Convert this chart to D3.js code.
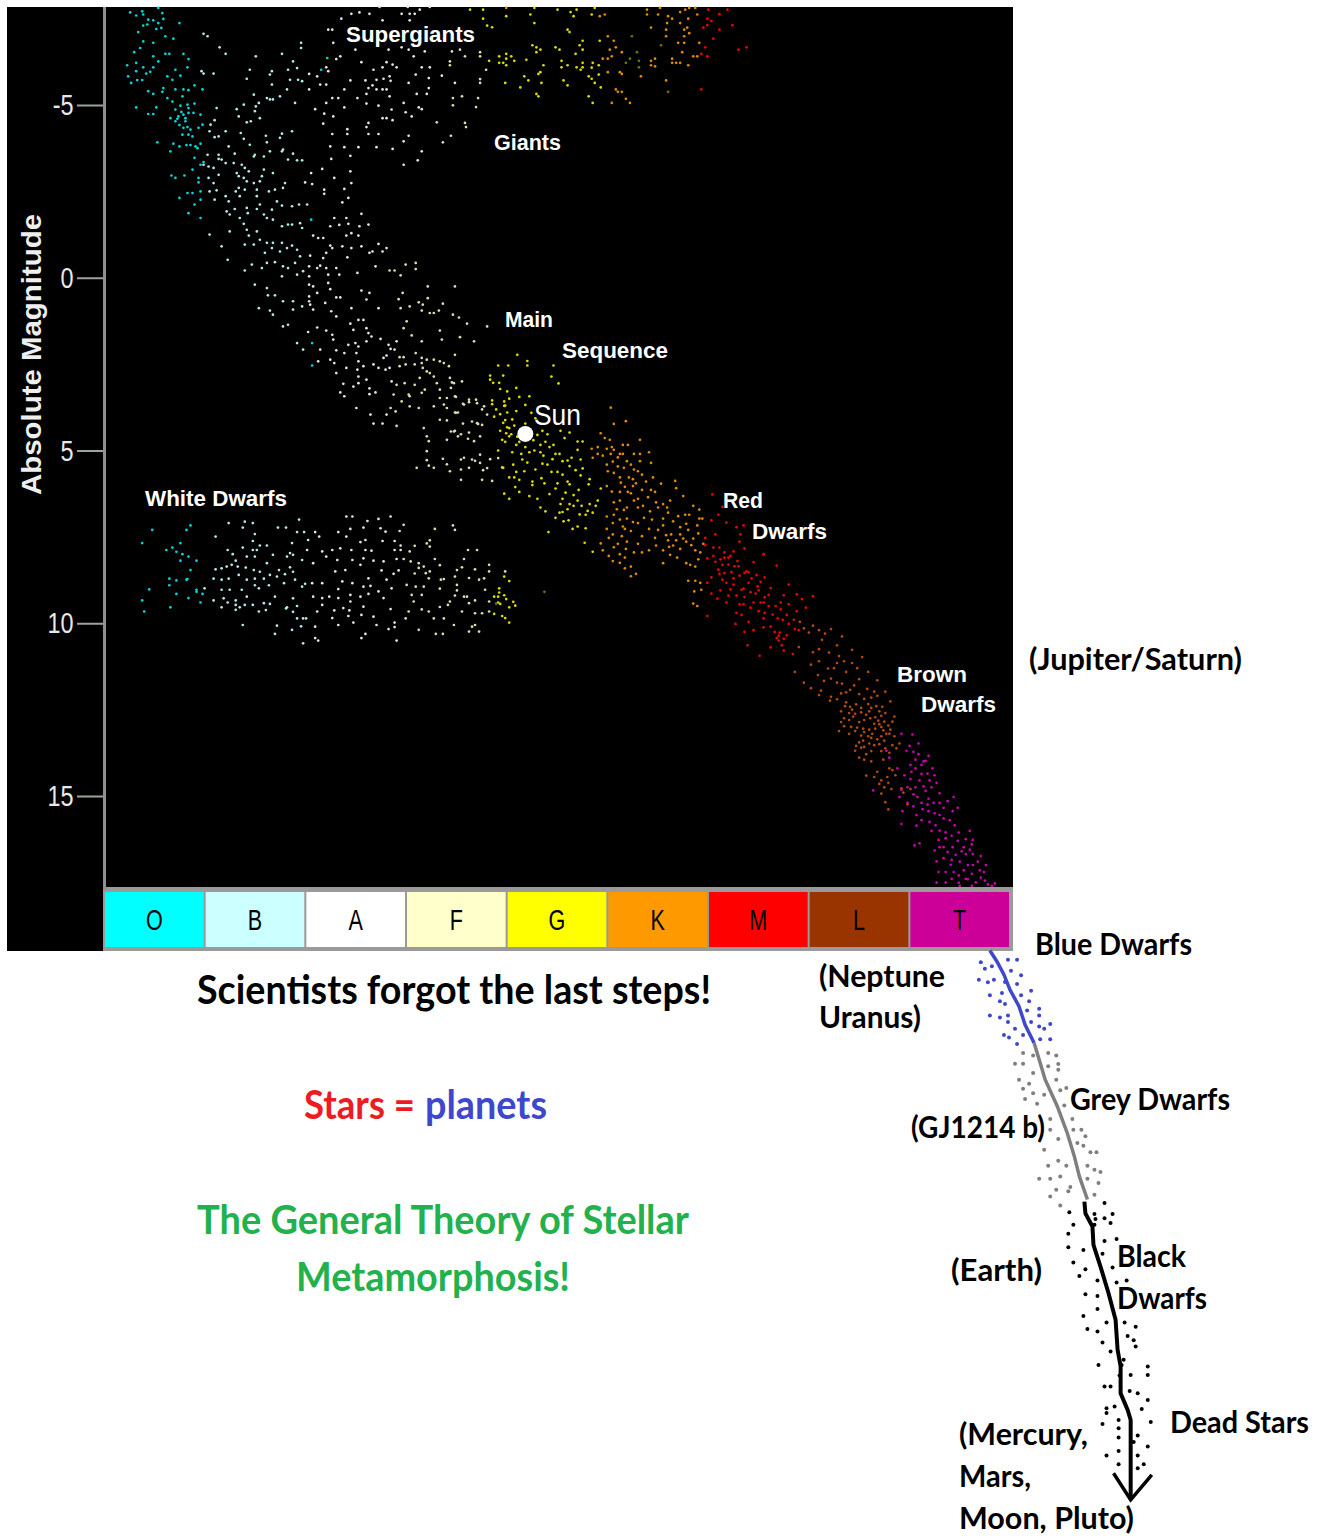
<!DOCTYPE html>
<html>
<head>
<meta charset="utf-8">
<script src="https://cdn.jsdelivr.net/npm/d3@7"></script>
<style>
body { margin: 0; background: #fff; }
svg { display: block; }
</style>
</head>
<body>
<div id="chart"></div>
<script>
// Spectral classes along the bottom of the diagram
const classes = ["O", "B", "A", "F", "G", "K", "M", "L", "T"];
const magnitudeTicks = [-5, 0, 5, 10, 15];

// Stars as [spectral position in classes, absolute magnitude]
const starsO = [[.25,-7.68],[.31,-7.59],[.37,-7.71],[.38,-7.62],[.43,-7.47],[.48,-7.45],[.53,-7.81],[.57,-7.66],[.58,-7.49],[.53,-7.37],[.42,-7.33],[.38,-7.3],[.51,-7.2],[.56,-7.23],[.33,-7.11],[.6,-6.99],[.68,-6.92],[.74,-7.37],[.38,-6.84],[.48,-6.8],[.35,-6.65],[.29,-6.53],[.6,-6.48],[.64,-6.48],[.78,-6.48],[.48,-6.41],[.53,-6.26],[.83,-6.33],[.22,-6.15],[.31,-6.22],[.38,-6.09],[.48,-6.09],[.31,-5.98],[.45,-5.96],[.41,-5.91],[.23,-5.83],[.7,-6.02],[.75,-5.85],[.82,-6.09],[.62,-5.83],[.67,-5.73],[.32,-5.72],[.37,-5.72],[.26,-5.64],[.58,-5.49],[.7,-5.45],[.78,-5.45],[.83,-5.43],[.89,-5.57],[.97,-5.45],[.43,-5.4],[.48,-5.32],[.57,-5.38],[.77,-5.25],[.62,-5.2],[.67,-5.1],[.82,-5.01],[.75,-4.98],[.83,-4.91],[.89,-5.04],[.31,-4.93],[.51,-4.93],[.7,-4.87],[.73,-4.67],[.78,-4.72],[.83,-4.77],[.88,-4.77],[.43,-4.74],[.48,-4.74],[.65,-4.62],[.7,-4.53],[.8,-4.53],[.95,-4.72],[.78,-4.34],[.85,-4.29],[.97,-4.43],[.93,-4.34],[.77,-4.14],[.83,-4.14],[.87,-4.09],[.52,-3.92],[.68,-3.88],[.74,-3.8],[.81,-3.84],[.85,-3.84],[.95,-3.88],[.65,-3.66],[.89,-3.47],[.95,-3.27],[.87,-3.13],[.66,-2.96],[.7,-2.89],[.79,-2.96],[.93,-2.89],[.93,-2.76],[.82,-2.45],[.87,-2.45],[.95,-2.5],[.74,-2.31],[.95,-2.26],[.89,-2.12],[.83,-1.87],[.95,-1.73],[2.06,1.89],[2.06,2.54],[2.05,-1.68],[2.21,-6.36],[2.15,-6.02],[.72,-4.6],[.76,-4.8],[.8,-4.62],[.74,-4.42],[.82,-4.36],[.9,-3.8],[.92,-3.75],[.98,-3.35],
  [.47,7.3],[.85,7.17],[.81,7.3],[.37,7.68],[.75,7.68],[.61,7.88],[.67,7.81],[.71,7.93],[.77,8],[.83,8.07],[.91,8.19],[.75,8.19],[.85,8.46],[.64,8.71],[.71,8.76],[.81,8.74],[.82,8.72],[.64,8.9],[.91,9.03],[.91,9.09],[.44,9.02],[.71,9.15],[.83,9.27],[.97,9.15],[.37,9.34],[.95,9.4],[.65,9.54],[.39,9.66]];

const starsB = [[.98,-7.06],[1.02,-6.99],[1.14,-6.67],[1.2,-6.48],[.96,-5.98],[.98,-5.91],[1.08,-5.91],[1.11,-4.91],[1.09,-4.56],[1.05,-4.43],[1.04,-4.24],[1.2,-4.24],[1.09,-4.07],[1.13,-4.09],[1.02,-3.56],[1.13,-3.56],[1.13,-3.44],[1.23,-3.8],[1.29,-3.59],[1.16,-3.42],[1.2,-3.32],[1.28,-3.32],[.98,-3.27],[1.03,-3.22],[1.08,-3.18],[1.13,-2.98],[1.03,-2.89],[1.08,-2.74],[1.11,-2.53],[1.04,-2.5],[1.09,-2.26],[1.2,-2.36],[1.23,-2.21],[1.31,-3.03],[1.36,-3.27],[1.39,-3.18],[1.33,-2.94],[1.38,-2.89],[1.43,-3.08],[1.48,-2.74],[1.41,-2.79],[1.33,-2.6],[1.3,-2.5],[1.39,-2.55],[1.34,-2.36],[1.51,-2.55],[1.51,-2.36],[1.29,-1.99],[1.21,-1.92],[1.24,-1.83],[1.34,-1.73],[1.41,-2.02],[1.42,-1.87],[1.51,-1.99],[1.58,-1.83],[1.61,-1.73],[1.67,-1.68],[1.54,-2.12],[1.38,-1.56],[1.41,-1.39],[1.51,-1.34],[1.24,-1.34],[1.43,-1.22],[1.39,-.96],[1.48,-.96],[1.54,-1.1],[1.61,-1.01],[1.67,-1.01],[1.76,-1.01],[1.59,-.72],[1.66,-.86],[1.74,-.76],[1.81,-.86],[1.86,-.93],[1.91,-.81],[1.94,-.62],[1.89,-.43],[1.46,-.38],[1.56,-.28],[1.61,-.43],[1.69,-.45],[1.77,-.33],[1.82,-.28],[1.91,-.09],[1.97,-.19],[1.39,-.21],[1.76,-.04],[1.49,.2],[1.61,.3],[1.62,.51],[1.69,.51],[1.77,.68],[1.87,.68],[1.53,.88],[1.64,.95],[1.67,1.07],[1.87,.92],[1.96,.83],[1.77,1.41],[1.82,1.36],[1.91,1.89],[1.97,2.08],[1.04,-1.25],[1.16,-.91],[1.22,-.52],[1.35,-4.19],[1.38,-4.02],[1.44,-3.85],[1.49,-3.56],[1.58,-3.51],[1.48,-3.51],[1.64,-3.66],[1.76,-3.66],[1.77,-3.71],[1.87,-3.59],[1.91,-3.4],[1.96,-3.4],[1.82,-3.42],[1.58,-3.13],[1.67,-3.03],[1.56,-2.94],[1.54,-2.79],[1.79,-2.74],[1.63,-2.5],[1.69,-2.55],[1.77,-2.6],[1.71,-2.21],[1.76,-2.09],[1.66,-1.97],[1.86,-2.07],[1.93,-2.12],[2.01,-2.12],[1.76,-1.49],[1.82,-1.54],[1.86,-1.54],[1.94,-1.58],[1.96,-1.44],[1.41,-5.76],[1.44,-6.02],[1.66,-5.98],[1.64,-5.88],[1.82,-6.02],[1.84,-5.73],[1.87,-6.26],[1.91,-6.07],[1.96,-5.69],[1.92,-5.73],[1.66,-5.59],[1.48,-5.3],[1.61,-5.2],[1.64,-5.16],[1.74,-5.25],[1.67,-5.16],[1.81,-5.45],[1.89,-5.06],[1.76,-6.48],[1.95,-6.8],[1.95,-6.65],[1.5,-6.41],[1.38,-5.01],[1.31,-4.88],[1.5,-4.96],[1.53,-5.06],[1.49,-4.82],[1.33,-4.67],[1.41,-4.5],[1.54,-4.62],[1.45,-4.53],[1.6,-4.11],[1.76,-4.17],[1.86,-4.24],[1.61,-3.92],[1.74,-4.05],
  [1.23,7.1],[1.39,7.06],[1.47,7.1],[1.1,7.49],[1.37,7.23],[1.49,7.42],[1.47,7.62],[1.72,7.23],[1.8,7.23],[1.93,7],[1.91,7.36],[1.98,7.36],[1.22,7.88],[1.27,8],[1.37,7.81],[1.47,7.88],[1.51,7.88],[1.54,7.75],[1.61,7.75],[1.67,8.02],[1.49,8.07],[1.41,8.07],[1.3,8.19],[1.61,8.26],[1.86,7.68],[1.84,7.97],[1.81,8.07],[1.96,8.17],[1.87,8.02],[1.73,8.46],[1.84,8.38],[1.1,8.44],[1.16,8.41],[1.21,8.36],[1.26,8.31],[1.32,8.36],[1.4,8.39],[1.48,8.46],[1.54,8.51],[1.64,8.6],[1.87,8.51],[1.08,8.71],[1.16,8.74],[1.23,8.71],[1.33,8.6],[1.41,8.74],[1.49,8.71],[1.58,8.71],[1.71,8.65],[1.79,8.58],[1.89,8.74],[1.49,8.9],[1.36,9.03],[1.16,9.03],[1.24,9.03],[.99,8.99],[1.53,8.99],[1.63,8.9],[1.78,8.84],[1.96,8.94],[1.99,8.86],[1.18,9.28],[1.3,9.34],[1.41,9.23],[1.69,9.23],[1.87,9.28],[1.08,9.34],[1.16,9.54],[1.22,9.4],[1.3,9.47],[1.34,9.54],[1.39,9.47],[1.47,9.47],[1.58,9.42],[1.64,9.44],[1.81,9.54],[1.91,9.5],[1.3,9.61],[1.53,9.66],[1.6,9.62],[1.8,9.57],[1.87,9.67],[1.91,9.86],[1.97,9.86],[2,9.86],[1.71,10.07],[1.37,10.05],[1.86,10.19],[1.69,10.31],[1.95,10.09],[1.97,10.58]];

const starsA = [[2.45,-7.64],[2.53,-7.68],[2.63,-7.64],[2.73,-7.84],[2.95,-7.64],[3.01,-7.84],[3.03,-7.64],[3.08,-7.64],[3.13,-7.76],[3.23,-7.84],[2.35,-7.5],[2.76,-7.45],[3.03,-7.45],[2.22,-7.18],[2.26,-7.18],[2.27,-6.8],[2.49,-6.6],[2.82,-6.6],[2.95,-6.67],[3.02,-6.6],[3.18,-6.55],[3.07,-6.41],[2.34,-6.41],[2.3,-6.33],[2.2,-6.09],[2.22,-5.98],[2.03,-5.9],[2.11,-5.83],[2.55,-6.24],[2.8,-6.24],[2.86,-6.17],[2.9,-6.09],[2.76,-6.09],[2.67,-6.02],[3.15,-6.09],[3.23,-6.09],[2.14,-5.59],[2.2,-5.59],[2.44,-5.71],[2.59,-5.71],[2.7,-5.73],[2.77,-5.76],[2.83,-5.83],[2.84,-5.7],[2.66,-5.57],[2.62,-5.49],[3.09,-5.88],[3.02,-5.64],[3.22,-5.78],[3.35,-5.85],[3.48,-5.64],[2.03,-5.45],[2.38,-5.45],[2.76,-5.45],[2.8,-5.45],[2.7,-5.45],[2.6,-5.32],[2.83,-5.25],[3.22,-5.49],[3.2,-5.32],[2.32,-5.2],[2.26,-5.2],[2.2,-5.06],[2.51,-5.2],[3.1,-5.32],[2.97,-5.06],[2.6,-5.04],[2.72,-4.98],[2.09,-4.88],[2.38,-4.93],[2.85,-4.87],[3.12,-4.93],[3.15,-4.88],[2.99,-4.79],[3.05,-4.67],[2.18,-4.75],[2.27,-4.67],[2.76,-4.62],[2.8,-4.62],[2.86,-4.56],[2.17,-4.46],[2.62,-4.48],[2.6,-4.36],[2.41,-4.3],[2.41,-4.16],[2.26,-4.16],[2.62,-4.16],[2.72,-4.16],[3.02,-4.11],[2.97,-3.95],[2.24,-3.8],[2.38,-3.78],[2.52,-3.78],[2.7,-3.78],[2.86,-3.73],[3.15,-3.66],[2.44,-3.53],[2.25,-3.44],[2.97,-3.27],[3.11,-3.4],[2.16,-3.15],[2.44,-3.08],[2.28,-2.89],[2.45,-2.74],[2.05,-3.03],[1.99,-2.76],[2.06,-2.71],[2.18,-2.55],[2.18,-2.43],[2.38,-2.57],[2.42,-2.31],[2.36,-2.18],[2.55,-1.85],[2.28,-1.73],[2.4,-1.73],[2.42,-1.56],[2.33,-1.53],[2.24,-1.49],[2.53,-1.49],[2.62,-1.54],[2.07,-1.22],[2.12,-1.15],[2.17,-1.15],[2.4,-1.22],[2.45,-1.29],[2.52,-1.22],[2.24,-.93],[2.26,-.86],[2.2,-.72],[2.36,-.91],[2.45,-.86],[2.55,-.91],[2.63,-.72],[2.66,-.76],[2.72,-.98],[2.76,-.76],[2.8,-.86],[2.17,-.57],[2.41,-.59],[2.04,-.64],[2.03,-.33],[2.11,-.28],[2.14,-.35],[2.2,-.28],[2.3,-.28],[2.69,-.33],[2.51,-.14],[2.22,-.09],[2.33,-.09],[2.03,-.04],[2.03,.2],[2.07,.25],[2.22,.15],[2.24,.33],[2.11,.44],[2.55,.37],[2.63,.44],[2.6,.63],[2.03,.54],[2.03,.68],[2.3,.57],[2.34,.57],[2.19,.73],[2.25,.97],[2.07,.92],[2.45,.88],[2.72,.88],[2.04,.78],[2.3,1.12],[2.52,1.22],[2.57,1.22],[2.44,1.33],[2.6,1.46],[2.62,1.6],[2.65,1.7],[2.47,1.51],[2.11,1.44],[2.02,1.57],[2.2,1.53],[2.26,1.65],[2.27,1.79],[2.49,1.89],[2.52,1.99],[2.6,1.84],[2.74,1.77],[2.14,2.08],[2.3,2.1],[2.38,2.18],[2.42,1.94],[2.5,2.18],[2.12,2.42],[2.24,2.37],[2.28,2.47],[2.52,2.42],[2.57,2.56],[2.51,2.66],[2.67,2.51],[2.3,2.76],[2.4,2.61],[2.72,2.61],[2.77,2.32],[2.8,2.25],[2.82,1.94],[2.84,2.06],[2.88,2.08],[2.9,1.84],[2.37,3.07],[2.47,3.15],[2.52,2.86],[2.52,3.05],[2.6,2.95],[2.79,2.66],[2.83,2.61],[2.85,3],[2.34,3.32],[2.38,3.43],[2.63,3.2],[2.63,3.37],[2.69,3.32],[2.5,3.77],[2.64,3.96],[2.8,3.96],[2.67,4.22],[2.76,4.22],
  [2.4,6.91],[2.46,6.91],[2.61,7.04],[2.72,6.98],[2.84,6.91],[2.44,7.27],[2.32,7.36],[2.57,7.23],[2.74,7.25],[2.79,7.35],[2.02,7.59],[2.09,7.36],[2.13,7.49],[2.4,7.49],[2.54,7.65],[2.59,7.59],[2.76,7.62],[2.88,7.62],[2.94,7.75],[2.01,7.88],[2.07,8.26],[2.16,7.92],[2.2,8.07],[2.26,7.88],[2.34,7.83],[2.45,7.88],[2.59,7.88],[2.65,7.9],[2.88,7.88],[2.94,7.88],[2.31,8.17],[2.46,8.17],[2.57,8.12],[2.67,8.19],[2.77,8.21],[2.9,8.14],[2.29,8.5],[2.39,8.46],[2.54,8.31],[2.75,8.47],[2.87,8.57],[2.92,8.47],[2.06,8.84],[2.16,8.84],[2.36,8.79],[2.46,8.84],[2.62,8.7],[2.8,8.74],[2.57,8.94],[2.64,8.92],[2.85,8.99],[2.32,9.01],[2.44,9.18],[2.54,9.23],[2.62,9.15],[2.72,9.08],[2.77,9.27],[2.07,9.23],[2.23,9.23],[2.16,9.27],[2.32,9.27],[2.44,9.37],[2.16,9.47],[2.11,9.66],[2.28,9.63],[2.37,9.56],[2.43,9.63],[2.57,9.52],[2.84,9.59],[2.26,9.85],[2.42,9.79],[2.55,9.76],[2.67,9.81],[2.47,9.98],[2.32,10.05],[2.7,10.05],[2.09,10.1],[2.88,9.98],[2.88,10.11],[2.82,10.17],[2.59,10.31],[2.55,10.43],[2.09,10.43],[2.12,10.5],[2.9,10.5]];

const starsF = [[3.45,-6.55],[3.53,-6.6],[3.43,-6.26],[3.43,-6.15],[3.58,-6.41],[3.73,-6.53],[3.73,-6.41],[3.79,-6.02],[3.73,-5.75],[3.73,-5.64],[3.46,-5.2],[3.55,-5.25],[3.71,-5.2],[3.46,-4.99],[3.69,-4.94],[3.3,-4.5],[3.58,-4.48],[3.59,-4.36],[3.36,-3.92],[3.44,-4.11],[2.99,-.38],[3.09,-.43],[3.09,-.25],[2.83,-.21],[2.88,-.21],[2.94,-.07],[3.21,.25],[3.48,.25],[2.96,.44],[2.92,.62],[3.21,.59],[3.03,.83],[3.12,.71],[3.16,.78],[3.15,.95],[2.94,.88],[3.36,.75],[3.23,1.02],[3.27,1.02],[3.32,.95],[3,1.26],[2.97,1.46],[3.46,1.07],[3.52,1.15],[3.6,1.33],[3.33,1.53],[3.05,1.67],[3.8,1.41],[3.53,1.72],[3.67,1.84],[3.15,1.84],[3.35,1.79],[3.09,2.18],[2.93,2.3],[2.97,2.3],[3.15,2.32],[3.15,2.47],[3.2,2.37],[3.27,2.37],[3.33,2.42],[3.37,2.47],[3.42,2.56],[3.48,2.23],[2.93,2.56],[2.99,2.51],[3.08,2.51],[3.16,2.61],[3.2,2.71],[3.23,2.76],[3.27,2.86],[3.43,2.9],[3.47,3.05],[3.55,3],[3.13,2.9],[2.98,3.05],[2.9,3.1],[2.87,3.38],[3.02,3.38],[3.08,3.1],[3.18,3.24],[3.3,3.05],[3.33,3.24],[3.44,3.19],[2.95,3.58],[3.03,3.43],[3.15,3.33],[3.33,3.48],[3.4,3.48],[3.48,3.43],[3.27,3.72],[3.37,3.67],[3.4,3.77],[3.57,3.67],[3.62,3.53],[3.7,3.63],[3.77,3.72],[2.84,3.77],[3.03,3.72],[3.12,3.77],[2.89,3.87],[3.48,3.9],[3.51,3.9],[3.65,4.16],[3.7,4.21],[3.75,4.26],[3.8,3.96],[3.33,4.11],[3.4,4.13],[2.9,4.29],[3.17,4.35],[3.47,4.45],[3.51,4.59],[3.4,4.69],[3.2,4.59],[3.22,4.73],[3.67,4.73],[3.73,4.59],
  [3.45,3.03],[3.49,3.45],[3.56,3.65],[3.62,3.6],[3.69,3.53],[3.75,3.81],[3.49,3.91],[3.56,4.22],[3.71,4.23],[3.62,4.48],[3.48,4.43],[3.54,4.53],[3.61,4.66],[3.44,4.45],[3.57,5.21],[3.54,5.26],[3.73,5.12],[3.83,5.25],[3.54,5.55],[3.62,5.5],[3.73,5.36],[3.76,5.57],[3.8,5.51],[3.54,5.85],[3.65,5.26],[3.68,5.3],[3.75,5.85],[3.85,5.88],[3.91,5.22],[3.95,5.49],[3.2,5.02],[3.2,5.28],[3.22,5.44],[3.36,5.24],[3.1,5.5],[3.27,5.5],[3.4,5.4],[3.43,5.6],
  [2.97,7.15],[2.93,7.33],[3.28,7.27],[3.46,7.17],[3.48,7.3],[3.23,7.6],[3.2,7.69],[3.23,7.78],[3.08,7.76],[3.03,7.92],[3.61,7.88],[3.7,7.88],[2.97,8.14],[3.04,8.21],[3.28,8.14],[3.12,8.26],[3.17,8.36],[3.33,8.32],[3.57,8.14],[3.82,8.31],[3.12,8.4],[3.19,8.55],[3.23,8.5],[3.5,8.46],[3.55,8.38],[3.68,8.44],[3.82,8.5],[3.08,8.56],[3.22,8.7],[3.37,8.72],[3.48,8.65],[3.62,8.69],[3.77,8.7],[3.98,8.5],[3,8.89],[3.09,8.94],[3.17,8.94],[3.34,8.74],[3.5,8.89],[3.72,8.74],[3.78,9.03],[3.05,9.18],[3.15,9.18],[3.33,9],[3.5,9.05],[3.57,9.23],[3.07,9.37],[3.6,9.23],[3.48,9.2],[3.43,9.37],[3.68,9.34],[3.82,9.37],[3.15,9.6],[3.33,9.53],[3.41,9.47],[3.62,9.42],[3.68,9.71],[3.75,9.71],[3.02,9.66],[2.99,9.86],[3.55,9.66],[3.22,9.66],[3.27,9.86],[3.37,9.86],[3.47,10.05],[3.65,10.1],[3.12,10.19],[3.29,10.31],[3.36,10.31],[3.62,10.24],[3.72,10.24],[3.68,10.05],[3.82,9.66]];

const starsG = [[3.63,-7.76],[3.76,-7.76],[3.76,-7.5],[3.99,-7.57],[3.8,-7.3],[3.85,-7.25],[4.27,-7.81],[4.23,-7.62],[4.27,-7.37],[4.5,-7.76],[4.63,-7.69],[4.69,-7.76],[4.66,-7.57],[4.87,-7.81],[4.84,-7.62],[4.6,-7.18],[4.62,-7.11],[4.75,-6.86],[4.92,-6.86],[4.25,-6.73],[4.29,-6.67],[4.33,-6.6],[4.29,-6.53],[4.48,-6.67],[4.52,-6.6],[4.72,-6.73],[4.75,-6.6],[4.68,-6.48],[3.92,-6.41],[3.99,-6.48],[4.04,-6.41],[3.99,-6.34],[4.07,-6.28],[3.82,-6.28],[3.92,-6.22],[3.96,-6.22],[3.99,-6.15],[4.19,-6.31],[4.36,-6.15],[4.54,-6.28],[4.54,-6.09],[4.6,-6.15],[4.69,-6.09],[4.75,-6.22],[4.75,-6.09],[4.73,-6.02],[4.85,-6.22],[4.84,-6.08],[4.91,-6.15],[4.33,-5.95],[4.31,-5.9],[4.17,-5.83],[4.21,-5.71],[3.98,-5.64],[4.34,-5.64],[4.13,-5.51],[4.56,-5.71],[4.6,-5.57],[4.81,-5.83],[4.84,-5.76],[4.87,-5.64],[4.91,-5.88],[4.93,-5.51],[4.29,-5.32],[4.31,-5.25],[4.81,-5.25],[4.85,-5.06],
  [3.91,2.54],[4.01,2.54],[4.1,2.23],[4.2,2.41],[4.2,2.54],[4.46,2.54],[4.44,2.86],[4.51,3.06],[3.83,2.83],[3.83,2.95],[3.96,2.83],[3.86,3.04],[3.92,3.04],[3.93,3.22],[4,3.29],[4.09,3.19],[4.02,3.5],[4.22,3.43],[4.12,3.45],[3.85,3.55],[3.85,3.66],[3.97,3.71],[4.09,3.86],[4.18,3.68],[4.24,3.91],[3.89,3.81],[3.87,4.02],[3.98,4.12],[4,4.33],[3.93,4.43],[3.95,4.69],[4.02,4.59],[4.07,4.28],[4.04,4.53],[4.09,4.84],[4.18,4.22],[4.28,4.07],[4.35,4.43],[4.4,4.53],[4.33,4.84],[4.46,4.84],[4.53,4.43],[4.57,4.64],[4.62,4.48],[4.22,5.05],[4.33,5.05],[3.91,5],[4.15,5.26],[4.06,5.41],[3.96,5.5],[4.35,5.38],[4.55,5.31],[4.6,5.29],[4.48,5.1],[4.4,5.41],[4.44,5.62],[4.5,5.62],[4.09,5.62],[4.02,5.78],[4.07,5.78],[4.08,6.06],[4.25,6],[4.22,6.32],[4.37,5.95],[4.42,6.26],[4.53,6.55],[4.62,6.55],[4.74,6.6],[4.88,6.6],[4.38,6.76],[4.55,6.78],[4.61,7.02],[4.78,6.86],[4.41,7.36],[4.65,7.27],[4.77,7.67],[4.85,7.93],[4.7,4.74],[4.75,4.74],[4.7,4.98],[4.64,5.21],[4.73,5.26],[4.68,5.57],[4.73,5.72],[4.62,5.98],[4.58,6.22],[4.66,6.29],[4.71,6.14],[4.82,5.83],[4.81,5.98],[4.75,5.52],
  [3.97,6.25],[4.02,6.4],[4.12,6.2],[4.25,5.9],[4.33,6.65],[4.48,6.95],[4.55,6.4],[3.97,3.58],[3.98,3.7],[4,3.9],[3.93,3.95],[3.96,4.2],[3.99,4.5],[4.02,4.35],[4.05,4.1],[3.98,4.75],[4.1,4.6],[4.12,4.75],[4.18,4.9],[4.26,4.7],[4.3,4.55],[4.27,5],[4.38,4.75],[4.42,4.9],[4.36,5.15],[4.14,5.1],[4.2,5.35],[4.05,5.05],[4.12,5.85],[4.17,5.6],[4.28,5.55],[4.34,5.8],[4.45,5.25],[4.52,5.1],[4.55,5.7],[4.62,5.45],[4.5,5.95],[4.6,5.9],[4.48,6.1],[4.3,6.4],[4.52,6.8],[4.56,7.05],[4.66,6.6],[4.7,6.45],[4.82,6.55],[4.72,6.85],[4.8,6.75],[4.6,6.7],[4.93,6.1],[4.9,6.45],[4.85,6.8],[4.7,7.2],[4.78,7.25],
  [3.97,8.65],[4.02,8.78],[3.92,8.99],[3.92,9.11],[3.97,9.19],[3.87,9.23],[3.91,9.23],[3.99,9.3],[4.06,9.38],[4.08,9.49],[3.91,9.4],[3.93,9.44],[4.02,9.54],[3.87,9.73],[3.95,9.79],[3.98,9.85],[4.02,9.98]];

const starsK = [[3.99,-7.81],[4.92,-7.57],[4.97,-7.62],[5.39,-7.76],[5.39,-7.62],[5.5,-7.62],[5.52,-7.81],[5.6,-7.57],[5.64,-7.5],[5.72,-7.69],[5.77,-7.76],[5.81,-7.81],[5.87,-7.81],[5.89,-7.62],[5.8,-7.5],[5.59,-7.37],[5.72,-7.37],[5.43,-7.24],[5.58,-7.18],[5.76,-7.18],[5.79,-7.24],[5.81,-7.08],[5,-6.99],[5.58,-6.99],[5.76,-6.99],[5.06,-6.86],[5.7,-6.8],[5.76,-6.8],[5.91,-6.8],[5.08,-6.67],[5.02,-6.6],[5.14,-6.53],[5.74,-6.53],[5.04,-6.41],[5,-6.34],[4.95,-6.34],[5.43,-6.28],[5.47,-6.34],[5.64,-6.34],[5.85,-6.41],[5.89,-6.41],[5.64,-6.22],[5.68,-6.22],[5.72,-6.22],[5.43,-6.15],[5.47,-6.12],[5.8,-6.15],[5,-5.95],[5.12,-5.95],[5.14,-5.9],[5.33,-5.83],[5.58,-5.71],[5.08,-5.45],[5.1,-5.38],[5.14,-5.38],[5.18,-5.18],[5.04,-5.06],[5.22,-5.06],
  [5.03,3.76],[5.06,4.23],[5.18,4.15],[4.93,4.5],[4.97,4.64],[5.02,4.69],[5.32,4.69],[4.84,4.95],[4.9,4.9],[4.99,4.95],[4.85,5.21],[4.9,5.1],[4.95,5.15],[5.03,5.1],[5.04,4.9],[5.15,4.84],[5.2,4.84],[5.12,5.1],[5.15,5.1],[5.32,5.1],[5.32,5.31],[5.41,5.05],[5.43,5.36],[4.99,5.41],[5.1,5.46],[5.19,5.31],[5.23,5.41],[5.12,5.78],[5.21,5.78],[5.25,5.83],[5.13,5.93],[5.04,6.19],[5.25,6.03],[5.34,5.7],[5.45,5.78],[4.99,6.03],[5.06,6.5],[5.12,6.45],[5.23,6.24],[5.34,6.14],[5.43,6.14],[5.53,5.96],[5.67,5.88],[5.68,6.09],[5.75,6.32],[4.99,6.91],[5.06,6.86],[5.19,6.65],[5.3,6.65],[5.35,6.6],[5.42,6.76],[5.48,6.5],[5.59,6.65],[5.85,6.6],[5.91,6.71],[5.77,6.86],[5.81,6.86],[5.91,6.97],[5.94,6.97],[5.19,6.97],[5.25,7.07],[4.99,7.27],[5.01,7.53],[4.93,7.69],[5.05,7.43],[5.17,7.27],[5.23,7.33],[5.34,7.48],[5.41,7.27],[5.47,7.53],[5.14,7.48],[5.55,6.97],[5.55,7.17],[5.63,7.43],[5.72,7.22],[5.72,7.43],[5.78,7.12],[5.89,7.17],[5.19,7.64],[5.26,7.95],[4.95,7.89],[5.01,8.05],[5.12,8],[5.17,8.1],[5.41,7.89],[5.55,7.89],[5.61,7.79],[5.69,8.1],[5.78,7.64],[5.83,7.74],[5.87,7.89],[5.78,8.26],[5.55,8.26],[5.23,8.36],[5.17,8.41],[5.23,8.64],[5.28,8.57],[5.82,8.31],[5.87,8.36],[5.92,7.95],[5.8,8.77],[5.87,8.77],[5.92,8.83],[5.86,9.08],[5.85,9.43],[5.89,9.5],[5.93,9.03],
  [5.06,4.98],[5.1,5.2],[5.05,5.32],[5,5.6],[5.16,5.5],[5.06,5.65],[5.26,5.1],[5.26,5.55],[5.3,5.6],[5.17,6.05],[5.2,6.2],[5.28,5.95],[5.38,5.9],[5.12,6.2],[5.09,6.7],[5.16,6.72],[5.26,6.45],[5.3,6.4],[5.4,6.35],[5.47,6.2],[5.5,6.65],[5.55,6.55],[5.6,6.8],[5.62,6.45],[5.12,7],[5.15,7.2],[5.05,7.1],[5.3,7.1],[5.36,6.95],[5.44,7],[5.5,7.3],[5.58,7.45],[5.65,7.05],[5.7,6.9],[5.8,7.3],[5.85,7.55],[5.9,7.4],[5.75,7.55],[5.06,7.8],[5.1,7.7],[5.18,7.85],[5.3,7.7],[5.34,7.95],[5.48,7.75],[5.6,7.6],[5.65,7.75],[5.68,7.6],[5.72,7.85],[5.9,8.15],[5.95,7.7],[5.62,8.02],[5.05,8.2],[5.12,8.25]];

const starsM = [[6,-7.76],[6.19,-7.76],[6.11,-7.63],[5.99,-7.5],[6.03,-7.43],[5.99,-7.31],[5.95,-7.24],[6.24,-7.31],[6.11,-7.18],[6.05,-6.92],[5.97,-6.67],[6.3,-6.6],[6.38,-6.67],[5.93,-6.48],[5.99,-6.41],[5.93,-5.45],
  [6.04,6.27],[6.14,6.63],[6.1,6.86],[6.03,7.02],[6.18,7.09],[6.28,7.22],[6.35,7.17],[5.97,7.53],[6.07,7.43],[6.32,7.43],[5.97,7.74],[6.05,7.81],[6.11,7.81],[6.31,7.64],[6.36,7.84],[5.99,8.12],[6.07,8.22],[6.16,8.1],[6.22,8.05],[6.29,8.2],[6.14,8.31],[6.23,8.52],[6.36,8.54],[6.45,8.23],[6.55,8],[6.68,8.33],[6.03,8.67],[6.11,8.57],[6.18,8.83],[6.31,8.62],[6.4,8.83],[6.49,8.93],[6.56,8.67],[6.62,8.98],[6.8,8.88],[6.75,9.19],[6.88,9.16],[7.04,9.22],[5.99,8.83],[6.03,9.14],[6.09,9.29],[6.18,9.4],[6.33,9.03],[6.36,9.24],[6.47,9.14],[6.55,9.4],[6.67,9.5],[6.78,9.76],[6.88,9.65],[6.97,9.55],[5.99,9.79],[6.31,9.45],[6.27,10.02],[6.33,9.76],[6.4,9.96],[6.55,9.86],[6.69,9.86],[6.8,10.02],[6.36,10.25],[6.55,10.12],[6.68,10.43],[6.73,10.64],[6.75,10.79],[6.39,10.64],[6.51,10.94],[6.86,10.17],[6.84,10.89],[6.71,10.27],[6.22,9.02],[6.14,8.74],[6.25,8.88],[6.45,9.4],[6.6,9.18],[6.62,10.1],[6.7,10.36],
  [6.05,8.05],[6.12,8.15],[6.2,8.3],[6.26,8.35],[6.1,8.45],[6.16,8.55],[6.25,8.7],[6.3,8.35],[6.38,8.5],[6.43,8.7],[6.48,8.6],[6.52,8.8],[6.35,9],[6.42,9.1],[6.5,9.05],[6.56,9.25],[6.6,9.5],[6.28,9.2],[6.35,9.45],[6.42,9.55],[6.5,9.65],[6.28,9.7],[6.2,9.2],[6.12,9.05],[6.64,9.75],[6.72,9.6],[6.74,9.9],[6.8,9.45],[6.85,9.9],[6.66,10.25],[6.7,10.5],[6.75,10.45],[6.62,10.7],[6.45,10.2],[6.78,10.35],[6.72,9.4],[6.93,9.3],[6.16,7.95],[6.25,7.92],[6.2,8.1],[6.4,8.52],[6.56,9.7],[6.52,9.4],[6.9,10.2]];

const starsL = [[6.91,9.96],[7.04,10.07],[7.22,10.17],[7.33,10.38],[7,10.27],[7.13,10.48],[6.9,10.69],[7.04,10.84],[7.28,10.64],[7.43,10.77],[7.53,10.98],[6.86,11.41],[7.1,11.1],[7.19,11.31],[7.28,11.15],[7.43,11.15],[7.37,11.41],[6.95,11.72],[7.02,11.88],[7.15,11.67],[7.28,11.72],[7.59,11.41],[7.68,11.65],[7.1,12.08],[7.22,12.13],[7.32,12.03],[7.41,11.93],[7.5,11.62],[7.55,12.19],[7.65,11.98],[7.76,11.98],[7.21,12.24],[7.37,12.29],[7.59,12.34],[7.81,12.26],[7.32,12.55],[7.43,12.5],[7.57,12.65],[7.7,12.55],[7.85,12.7],[7.32,12.86],[7.5,12.86],[7.65,12.91],[7.79,12.96],[7.3,13.12],[7.46,13.12],[7.59,13.27],[7.72,13.27],[7.85,13.27],[7.55,13.58],[7.65,13.53],[7.83,13.53],[7.46,13.69],[7.57,13.79],[7.72,13],[7.5,13.89],[7.68,14.3],[7.83,14.25],[7.57,14.41],[7.79,14.62],[7.72,14.93],[7.98,15.24],[7.76,15.18],[7.79,15.39],[7.94,14.9],[8.01,14.8],[7.37,12],[7.44,12.7],[7.7,12.92],[7.77,13.2],[7.63,13.2],[7.9,13.48],
  [7.36,12.4],[7.41,12.42],[7.47,12.35],[7.52,12.45],[7.62,12.45],[7.67,12.4],[7.73,12.42],[7.4,12.6],[7.46,12.62],[7.52,12.58],[7.6,12.55],[7.66,12.72],[7.72,12.68],[7.76,12.6],[7.35,12.75],[7.4,12.8],[7.55,12.8],[7.61,12.75],[7.69,12.82],[7.75,12.85],[7.83,12.85],[7.35,12.98],[7.42,13],[7.48,13.02],[7.54,13.05],[7.6,13.08],[7.66,13.05],[7.74,13.1],[7.81,13.08],[7.4,13.2],[7.52,13.25],[7.55,13.15],[7.62,13.32],[7.68,13.36],[7.75,13.4],[7.8,13.2],[7.5,13.45],[7.54,13.4],[7.6,13.48],[7.7,13.5],[7.76,13.62],[7.87,13.62],[7.47,13.55],[7.52,13.6],[7.62,13.7],[7.72,13.7],[7.8,13.75],[7.55,13.95],[7.62,14],[7.74,13.95],[7.65,14.45],[7.72,14.55],[7.78,14.45],[7.8,14.2],[7.86,14.4],[7.75,14.75],[7.82,14.8],[7.92,14.78],[7.7,14.65],[6.95,10.15],[7.1,10.2],[7.16,10.3],[7.1,10.75],[7.2,10.85],[7.3,10.95],[7.25,11.3],[7.02,11.2],[7.09,11.5],[7.35,11.1],[7.48,11.3],[7.22,11.6],[7.33,11.75],[7.12,11.95],[7.45,11.8],[7.5,12.05],[7.58,11.9],[7.62,12.15],[7.28,12.2],[7.68,12.1]];

const starsT = [[7.92,13.2],[8.03,13.22],[8.09,13.48],[7.77,13.69],[7.97,13.69],[8.09,13.79],[8.19,13.84],[7.8,13.89],[8.14,14],[7.88,14.2],[8.01,14.1],[8.23,14.2],[7.64,14.84],[7.92,14.82],[8.01,14.51],[8.12,14.36],[8.14,14.72],[8.27,14.62],[8.3,14.92],[7.9,15.03],[8.08,15.03],[8.19,15.08],[8.44,15.03],[8.48,15.34],[7.93,15.44],[8.07,15.55],[8.19,15.44],[8.34,15.34],[8.43,15.44],[7.92,15.81],[8.07,15.86],[8.34,15.65],[8.4,15.7],[8.22,16.01],[8.29,16.27],[8.36,16.22],[8.49,16.06],[8.6,16.01],[8.63,16.27],[8.1,16.37],[8.05,16.43],[8.25,16.58],[8.34,16.48],[8.43,16.48],[8.54,16.48],[8.63,16.68],[8.27,16.89],[8.41,16.99],[8.56,16.68],[8.71,16.74],[8.29,17.2],[8.49,17.3],[8.63,17],[8.76,17],[8.74,17.2],[8.49,17.51],[8.36,17.51],[8.71,17.36],[8.78,17.56],[8.85,17.53],[8.27,17.51],[8.58,17.41],
  [8,13.55],[8.04,13.72],[8.06,13.95],[8.12,14.1],[8.16,13.98],[7.95,14.4],[8.02,14.3],[8.06,14.2],[8.1,14.55],[8.18,14.35],[8.2,14.55],[8.06,14.75],[8.16,14.85],[8.22,14.75],[8.25,14.4],[7.98,14.75],[8.04,14.95],[8.12,15.2],[8.18,15.25],[8.24,15.2],[8.3,15.2],[8.38,15.15],[7.98,15.2],[8.04,15.3],[8.13,15.38],[8.25,15.5],[8.3,15.55],[8.12,15.7],[8.2,15.75],[8.26,15.85],[8.45,15.85],[8.3,16],[8.36,16.05],[8.42,16.15],[8.48,16.3],[8.56,16.25],[8.62,16.4],[8.3,16.48],[8.38,16.62],[8.46,16.7],[8.52,16.6],[8.6,16.55],[8.34,16.8],[8.42,16.85],[8.5,16.9],[8.58,17],[8.68,16.9],[8.36,17.2],[8.44,17.2],[8.54,17.15],[8.62,17.25],[8.7,17.15],[8.42,17.4],[8.56,17.4],[8.66,17.5],[8.75,17.45],[8.82,17.6],[8.5,17.6],[8.62,17.6]];

const starsDim = [[5.24,-6.99],[5.53,-6.73],[5.29,-6.53],[5.22,-6.34],[5.31,-6.28],[5.18,-6.22],[5.31,-6.09],[5.6,-5.38],[4.37,9.09],[3.89,9.43]];

// Sun's place on the main sequence
const sun = [4.18, 4.52];

// Extension below the chart: [position, magnitude] of the drawn lines and dots
const blueLine = [[8.8,19.47],[8.87,19.79],[8.94,20.17],[9,20.61],[9.09,21.09],[9.15,21.62],[9.24,22.15]];
const greyLine = [[9.24,22.15],[9.29,22.63],[9.35,23.21],[9.47,23.98],[9.57,24.76],[9.64,25.43],[9.69,26.01],[9.77,26.68]];
const blackLine = [[9.74,26.74],[9.75,27.08],[9.82,27.46],[9.83,27.99],[9.9,28.62],[9.98,29.39],[10.05,30.16],[10.07,31.03],[10.1,31.51],[10.1,32.29],[10.17,32.77],[10.2,33.06],[10.2,35.37]];
const arrowHead = [[10.03,34.6],[10.2,35.37],[10.41,34.65]];

const blueDots = [[8.71,19.81],[8.82,19.93],[8.75,20],[8.98,19.74],[9.07,19.74],[9.01,20.06],[9.11,20.19],[8.69,20.32],[8.78,20.39],[8.84,20.32],[9.07,20.44],[8.95,20.38],[9.21,20.64],[8.8,20.77],[8.92,20.7],[9.11,20.77],[8.9,20.94],[8.95,21.02],[9.19,20.94],[9.29,21.16],[9.17,21.21],[8.8,21.35],[8.9,21.41],[8.98,21.35],[8.98,21.54],[9.29,21.35],[9.21,21.54],[9.05,21.74],[9.29,21.67],[9.34,21.74],[9.4,21.6],[8.94,21.92],[8.99,21.99],[9.13,21.92],[9.3,22.04],[9.4,22.04],[9.07,22.18]];
const greyDots = [[9.13,22.44],[9.23,22.51],[9.38,22.44],[9.46,22.51],[9.05,22.75],[9.13,22.75],[9.38,22.82],[9.48,22.76],[9.48,22.92],[9.23,23.02],[9.46,23.21],[9.09,23.21],[9.19,23.33],[9.13,23.47],[9.23,23.6],[9.34,23.65],[9.5,23.52],[9.56,23.45],[9.15,23.77],[9.27,23.91],[9.54,23.96],[9.62,24.35],[9.4,24.35],[9.4,24.66],[9.63,24.66],[9.71,24.66],[9.48,24.93],[9.75,24.85],[9.67,25.04],[9.73,25.12],[9.34,25.24],[9.8,25.31],[9.86,25.31],[9.48,25.56],[9.38,25.7],[9.56,25.7],[9.77,25.7],[9.84,25.82],[9.9,25.88],[9.5,26.01],[9.4,26.08],[9.29,26.08],[9.77,26.08],[9.88,26.2],[9.6,26.32],[9.46,26.4],[9.58,26.44],[9.4,26.59],[9.84,26.54],[9.5,26.85]];
const blackDots = [[9.59,27.05],[9.84,27.1],[9.94,26.78],[10.02,27.1],[9.94,27.22],[10,27.36],[9.63,27.41],[9.85,27.24],[9.84,27.41],[9.58,27.67],[10.06,27.82],[9.94,27.88],[9.58,28.06],[9.73,28.14],[9.92,28.25],[9.63,28.5],[10.02,28.65],[9.75,28.7],[9.69,28.89],[9.87,29.02],[10.06,29.08],[10.16,29.02],[9.75,29.42],[9.87,29.47],[9.87,29.85],[9.73,30.05],[9.96,30.24],[10.14,30.24],[10.25,30.36],[9.77,30.43],[9.87,30.5],[10.17,30.63],[10.23,30.75],[9.92,30.82],[10.25,30.93],[10,31.08],[10.13,31.32],[9.88,31.47],[10.11,31.47],[10.37,31.51],[10.2,31.76],[10.09,31.77],[10.37,31.76],[9.94,32.09],[10,32.09],[10.19,32.22],[10.27,32.29],[10.37,32.48],[10.04,32.67],[9.96,32.72],[9.96,32.86],[10.31,32.74],[10.08,33.06],[9.92,33.18],[10.4,33.12],[10.08,33.3],[10.08,33.57],[10.27,33.51],[10.23,33.7],[10.37,33.83],[10.08,33.96],[9.96,34.09],[10.08,34.34],[10.27,34.09],[10.33,34.34],[10.27,34.46]];

// Which colour each star group takes
const starGroups = [
  { stars: starsO, color: "#00d8d8" },
  { stars: starsB, color: "#b4eaea" },
  { stars: starsA, color: "#e4e4e4" },
  { stars: starsF, color: "#dcdcb0" },
  { stars: starsG, color: "#dcdc00" },
  { stars: starsK, color: "#e08c00" },
  { stars: starsM, color: "#ee0000" },
  { stars: starsL, color: "#b44a0c" },
  { stars: starsT, color: "#cc00b0" },
  { stars: starsDim, color: "#707400" }
];
const classFill = ["#00ffff", "#ccffff", "#ffffff", "#ffffcc", "#ffff00", "#ff9900", "#ff0000", "#993300", "#cc0099"];

// Set the dimensions
const width = 1325, height = 1536;
const plot = { left: 105, right: 1010, top: 7, bottom: 888 };

const svg = d3.select("#chart").append("svg")
    .attr("width", width)
    .attr("height", height);

// Scales: spectral classes across, magnitude downwards (and on past the chart)
const x = d3.scaleLinear().domain([0, 9]).range([plot.left, plot.right]);
const y = d3.scaleLinear().domain([-5, 15]).range([105, 796]);
const xBand = d3.scaleBand().domain(classes).range([plot.left, 1009]).paddingInner(0.02);

// Black panel, with grey frame for the class strip
svg.append("rect").attr("x", 7).attr("y", 7).attr("width", 1006).attr("height", 944).attr("fill", "#000");

// Stars
starGroups.forEach(group => {
    svg.append("g").selectAll("circle")
        .data(group.stars)
        .join("circle")
        .attr("cx", d => x(d[0]))
        .attr("cy", d => y(d[1]))
        .attr("r", 1.35)
        .attr("fill", group.color);
});

svg.append("rect").attr("x", 103).attr("y", 887).attr("width", 910).attr("height", 64).attr("fill", "#9a9a9a");

svg.append("circle")
    .attr("cx", x(sun[0]))
    .attr("cy", y(sun[1]))
    .attr("r", 8)
    .attr("fill", "#fff");

// Y axis
const yAxis = svg.append("g")
    .attr("transform", "translate(104,0)")
    .call(d3.axisLeft(y).tickValues(magnitudeTicks).tickSize(27).tickFormat(d => String(d)));
yAxis.select(".domain").remove();
yAxis.selectAll(".tick line").attr("stroke", "#9aa59a").attr("stroke-width", 2);
yAxis.selectAll(".tick text")
    .attr("fill", "#e8e8e8")
    .attr("transform", "scale(.78,1)")
    .attr("x", -39)
    .style("font-family", "'Liberation Sans',sans-serif")
    .style("font-size", "30px");
svg.append("line").attr("x1", 104.5).attr("x2", 104.5).attr("y1", 7).attr("y2", 890)
    .attr("stroke", "#909090").attr("stroke-width", 3);

// Class strip
const strip = svg.append("g").selectAll("g").data(classes).join("g");
strip.append("rect")
    .attr("x", d => xBand(d))
    .attr("y", 892)
    .attr("width", xBand.bandwidth())
    .attr("height", 55)
    .attr("fill", (d, i) => classFill[i]);
strip.append("text")
    .attr("transform", d => `translate(${xBand(d) + xBand.bandwidth() / 2},930) scale(.72,1)`)
    .attr("text-anchor", "middle")
    .attr("fill", "#000")
    .style("font-family", "'Liberation Sans',sans-serif")
    .style("font-size", "30px")
    .text(d => d);

// Lines and dots that carry on below the chart
const line = d3.line().x(d => x(d[0])).y(d => y(d[1]));
const extension = [
    { path: blueLine, dots: blueDots, color: "#3f48cc", w: 3.5 },
    { path: greyLine, dots: greyDots, color: "#7f7f7f", w: 3.5 },
    { path: blackLine, dots: blackDots, color: "#000", w: 4 }
];
extension.forEach(part => {
    svg.append("path").attr("d", line(part.path)).attr("fill", "none")
        .attr("stroke", part.color).attr("stroke-width", part.w);
    svg.append("g").selectAll("circle").data(part.dots).join("circle")
        .attr("cx", d => x(d[0]))
        .attr("cy", d => y(d[1]))
        .attr("r", 2)
        .attr("fill", part.color);
});
svg.append("path").attr("d", line(arrowHead)).attr("fill", "none")
    .attr("stroke", "#000").attr("stroke-width", 3.5);

// Text: [string, left, baseline, width, size, colour]
const chartFont = "'Liberation Sans',sans-serif";
const noteFont = "Lato,'Noto Sans',sans-serif";
const chartLabels = [
    ["Supergiants", 346, 42, 129, 22], ["Giants", 494, 150, 67, 22], ["Main", 505, 327, 48, 22],
    ["Sequence", 562, 358, 106, 22], ["White Dwarfs", 145, 506, 142, 22], ["Red", 723, 508, 40, 22],
    ["Dwarfs", 752, 539, 75, 22], ["Brown", 897, 682, 70, 22], ["Dwarfs", 921, 712, 75, 22]
];
const noteLabels = [
    ["(Jupiter/Saturn)", 1029, 670, 213, 31, "#000"], ["Blue Dwarfs", 1035, 955, 157, 31, "#000"],
    ["(Neptune", 819, 987, 126, 31, "#000"], ["Uranus)", 819, 1028, 102, 31, "#000"],
    ["Grey Dwarfs", 1070, 1110, 160, 31, "#000"], ["(GJ1214 b)", 911, 1138, 134, 31, "#000"],
    ["(Earth)", 951, 1281, 91, 31, "#000"], ["Black", 1117, 1267, 69, 31, "#000"],
    ["Dwarfs", 1117, 1309, 90, 31, "#000"], ["Dead Stars", 1170, 1433, 139, 31, "#000"],
    ["(Mercury,", 959, 1445, 129, 31, "#000"], ["Mars,", 959, 1487, 72, 31, "#000"],
    ["Moon, Pluto)", 959, 1529, 175, 31, "#000"],
    ["Scientists forgot the last steps!", 197, 1004, 514, 40, "#000"],
    ["Stars =", 304, 1119, 111, 40, "#ed1c24"], ["planets", 425, 1119, 122, 40, "#3f48cc"],
    ["The General Theory of Stellar", 197, 1234, 492, 40, "#22b14c"],
    ["Metamorphosis!", 296, 1291, 274, 40, "#22b14c"]
];

svg.append("g").selectAll("text").data(chartLabels).join("text")
    .attr("x", d => d[1]).attr("y", d => d[2])
    .attr("textLength", d => d[3]).attr("lengthAdjust", "spacingAndGlyphs")
    .attr("fill", "#fff")
    .style("font-family", chartFont).style("font-weight", "bold").style("font-size", d => d[4] + "px")
    .text(d => d[0]);

svg.append("text").attr("x", 534).attr("y", 425).attr("textLength", 47).attr("lengthAdjust", "spacingAndGlyphs")
    .attr("fill", "#fff").style("font-family", chartFont).style("font-size", "29px").text("Sun");

svg.append("text")
    .attr("transform", "translate(41,495) rotate(-90)")
    .attr("textLength", 281).attr("lengthAdjust", "spacingAndGlyphs")
    .attr("fill", "#eee")
    .style("font-family", chartFont).style("font-weight", "bold").style("font-size", "27px")
    .text("Absolute Magnitude");

svg.append("g").selectAll("text").data(noteLabels).join("text")
    .attr("x", d => d[1]).attr("y", d => d[2])
    .attr("textLength", d => d[3]).attr("lengthAdjust", "spacingAndGlyphs")
    .attr("fill", d => d[5])
    .style("font-family", noteFont).style("font-weight", "bold").style("font-size", d => d[4] + "px")
    .text(d => d[0]);
</script>
</body>
</html>
